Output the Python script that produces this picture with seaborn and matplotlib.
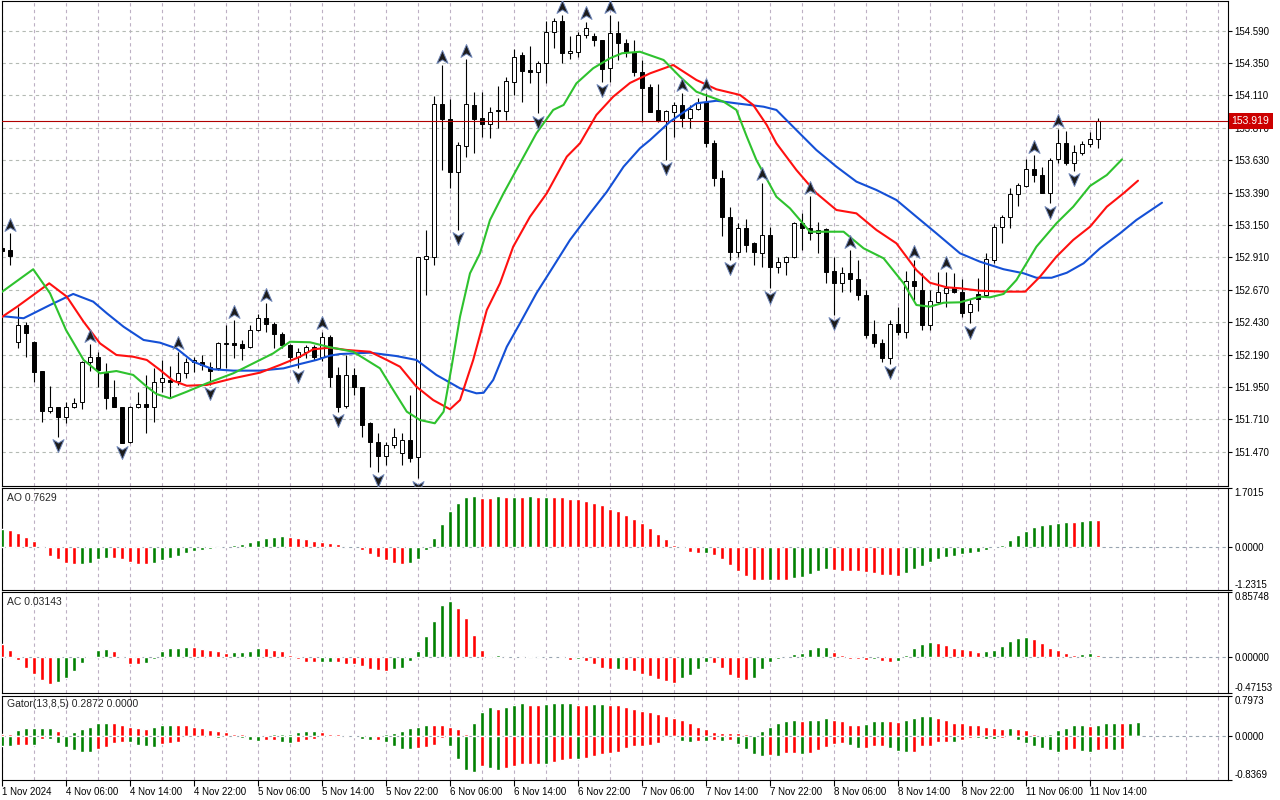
import numpy as np
import matplotlib
matplotlib.use("Agg")
import matplotlib.pyplot as plt
from matplotlib.path import Path
from matplotlib.transforms import offset_copy, blended_transform_factory
import seaborn as sns

# hourly bars, index -1 .. 136 (bar 0 = 1 Nov 23:00, bar 1 = 4 Nov 00:00)
first_bar = -1
opens = [152.980, 152.966, 152.286, 152.410, 152.282, 152.069, 151.775, 151.800, 151.726, 151.805,
         151.842, 152.138, 152.171, 152.052, 151.874, 151.805, 151.546, 151.800, 151.823, 151.805,
         151.986, 152.003, 151.997, 152.052, 152.138, 152.138, 152.101, 152.089, 152.272, 152.274,
         152.267, 152.245, 152.371, 152.460, 152.415, 152.341, 152.262, 152.175, 152.210, 152.249,
         152.175, 152.323, 152.040, 151.810, 152.040, 151.948, 151.682, 151.546, 151.440, 151.521,
         151.464, 151.558, 151.430, 152.897, 152.916, 154.045, 153.934, 153.546, 153.736, 154.040,
         153.941, 153.897, 154.003, 153.995, 154.212, 154.410, 154.299, 154.282, 154.349, 154.578,
         154.662, 154.423, 154.434, 154.558, 154.551, 154.521, 154.312, 154.571, 154.501, 154.434,
         154.284, 154.175, 154.003, 153.921, 153.990, 154.040, 153.941, 154.008, 154.064, 153.756,
         153.497, 153.212, 152.953, 153.126, 153.015, 152.946, 153.077, 152.842, 152.879, 152.912,
         153.163, 153.126, 153.089, 153.119, 152.812, 152.723, 152.793, 152.753, 152.632, 152.343,
         152.274, 152.168, 152.415, 152.360, 152.736, 152.669, 152.410, 152.583, 152.645, 152.682,
         152.657, 152.504, 152.640, 152.632, 152.891, 153.134, 153.212, 153.380, 153.440, 153.563,
         153.521, 153.390, 153.637, 153.756, 153.612, 153.682, 153.749, 153.786]
highs = [152.995, 153.089, 152.546, 152.434, 152.292, 152.069, 151.958, 151.802, 151.842, 151.867,
         152.143, 152.267, 152.212, 152.131, 152.003, 151.805, 151.810, 151.914, 152.040, 152.094,
         152.151, 152.106, 152.212, 152.166, 152.175, 152.188, 152.138, 152.282, 152.410, 152.447,
         152.299, 152.410, 152.489, 152.571, 152.434, 152.360, 152.267, 152.240, 152.262, 152.262,
         152.360, 152.335, 152.101, 152.188, 152.089, 151.948, 151.694, 151.612, 151.546, 151.645,
         151.612, 151.891, 152.912, 153.114, 154.106, 154.336, 154.082, 153.768, 154.378, 154.138,
         154.138, 154.023, 154.180, 154.249, 154.452, 154.434, 154.477, 154.366, 154.664, 154.682,
         154.706, 154.553, 154.578, 154.657, 154.573, 154.521, 154.706, 154.664, 154.526, 154.521,
         154.373, 154.195, 154.195, 154.003, 154.064, 154.126, 154.040, 154.089, 154.126, 153.780,
         153.558, 153.286, 153.163, 153.193, 153.027, 153.464, 153.138, 152.916, 152.921, 153.175,
         153.237, 153.366, 153.175, 153.126, 152.916, 152.842, 152.966, 152.891, 152.669, 152.447,
         152.304, 152.447, 152.546, 152.812, 152.891, 152.793, 152.669, 152.805, 152.805, 152.793,
         152.751, 152.603, 152.756, 152.941, 153.158, 153.225, 153.423, 153.460, 153.637, 153.669,
         153.583, 153.647, 153.860, 153.847, 153.743, 153.773, 153.842, 153.941]
lows = [152.929, 152.854, 152.237, 152.175, 151.990, 151.694, 151.760, 151.583, 151.682, 151.795,
        151.786, 152.072, 151.953, 151.788, 151.800, 151.534, 151.536, 151.795, 151.612, 151.689,
        151.916, 151.867, 151.966, 152.017, 152.062, 152.077, 151.966, 152.077, 152.089, 152.163,
        152.151, 152.237, 152.366, 152.360, 152.237, 152.237, 152.138, 152.091, 152.166, 152.151,
        152.143, 151.953, 151.768, 151.793, 151.891, 151.583, 151.360, 151.323, 151.373, 151.497,
        151.373, 151.397, 151.274, 152.632, 152.854, 153.558, 153.423, 153.114, 153.657, 153.686,
        153.805, 153.793, 153.872, 153.929, 154.114, 154.060, 154.205, 153.978, 154.205, 154.460,
        154.349, 154.378, 154.397, 154.534, 154.477, 154.212, 154.212, 154.373, 154.393, 154.254,
        153.916, 153.988, 153.916, 153.632, 153.805, 153.879, 153.867, 154.003, 153.731, 153.440,
        153.072, 152.891, 152.916, 152.953, 152.854, 152.842, 152.682, 152.793, 152.780, 152.904,
        152.966, 153.040, 152.946, 152.719, 152.484, 152.657, 152.657, 152.595, 152.312, 152.249,
        152.138, 152.121, 152.336, 152.312, 152.595, 152.373, 152.373, 152.573, 152.546, 152.645,
        152.471, 152.423, 152.516, 152.620, 152.867, 153.020, 153.126, 153.292, 153.430, 153.472,
        153.386, 153.312, 153.608, 153.595, 153.551, 153.669, 153.731, 153.719]
closes = [152.958, 152.923, 152.410, 152.349, 152.060, 151.775, 151.800, 151.726, 151.805, 151.834,
          152.138, 152.171, 152.077, 151.872, 151.800, 151.538, 151.800, 151.823, 151.805, 151.986,
          152.015, 151.990, 152.052, 152.138, 152.151, 152.114, 152.072, 152.274, 152.275, 152.262,
          152.242, 152.373, 152.460, 152.415, 152.341, 152.262, 152.175, 152.210, 152.245, 152.175,
          152.323, 152.027, 151.800, 152.040, 151.948, 151.669, 151.546, 151.440, 151.521, 151.583,
          151.558, 151.423, 152.912, 152.921, 154.045, 153.934, 153.546, 153.743, 154.045, 153.934,
          153.897, 153.990, 153.993, 154.217, 154.397, 154.294, 154.282, 154.349, 154.578, 154.662,
          154.423, 154.440, 154.558, 154.608, 154.521, 154.304, 154.571, 154.501, 154.434, 154.284,
          154.163, 153.990, 153.921, 153.997, 154.040, 153.941, 154.008, 154.052, 153.756, 153.497,
          153.212, 152.953, 153.126, 153.003, 152.953, 153.077, 152.842, 152.879, 152.912, 153.163,
          153.126, 153.089, 153.114, 152.805, 152.723, 152.793, 152.753, 152.632, 152.336, 152.274,
          152.168, 152.415, 152.360, 152.736, 152.701, 152.410, 152.590, 152.652, 152.682, 152.652,
          152.497, 152.566, 152.603, 152.897, 153.138, 153.212, 153.378, 153.447, 153.563, 153.521,
          153.390, 153.632, 153.756, 153.612, 153.689, 153.749, 153.786, 153.919]

up_fractals = [0, 10, 21, 28, 32, 39, 54, 57, 69, 72, 75, 84, 87, 94, 100, 105, 113, 117, 128, 131]
down_fractals = [6, 14, 25, 36, 41, 46, 51, 56, 66, 74, 82, 90, 95, 103, 110, 120, 130, 133]

# alligator lines (bar position, price)
lips_x = [-1.25, 2.9, 5, 7, 9.2, 11.25, 13.3, 15.4, 17.1, 18.3, 20, 22.1, 24.6, 27.9, 31.25, 32.9, 35,
          37.5, 40, 42.9, 46.25, 47.9, 49.6, 51.25, 53.1, 54.2, 55.2, 56.25, 57.5, 58.75, 60, 61.7,
          63.75, 65.8, 67.9, 69.2, 70.8, 72.9, 75, 76.5, 78.75, 81.7, 83.75, 85.8, 89.2, 90.8, 92.1,
          93.3, 95.8, 97.5, 100, 102.5, 104.2, 106.7, 109.2, 111.7, 113.3, 115, 116.7, 118.75,
          121.25, 122.5, 124.2, 125.8, 128.3, 130.8, 132.9, 135, 137.1, 139]
lips_y = [152.645, 152.823, 152.645, 152.373, 152.151, 152.052, 152.069, 152.040, 151.953, 151.899,
          151.867, 151.916, 151.978, 152.052, 152.151, 152.200, 152.286, 152.282, 152.245, 152.212,
          152.089, 151.929, 151.768, 151.706, 151.682, 151.768, 152.101, 152.471, 152.793, 152.941,
          153.188, 153.386, 153.608, 153.830, 154.003, 154.040, 154.200, 154.312, 154.386, 154.423,
          154.434, 154.373, 154.249, 154.138, 154.064, 154.003, 153.805, 153.632, 153.360, 153.274,
          153.101, 153.101, 153.101, 152.978, 152.904, 152.719, 152.558, 152.546, 152.575, 152.578,
          152.620, 152.615, 152.640, 152.743, 152.990, 153.163, 153.286, 153.440, 153.521, 153.637]
teeth_x = [-1.25, 0.9, 2.9, 4.9, 7.1, 9.2, 11.25, 13.3, 15.4, 17.1, 18.75, 20.4, 22.1, 24.6, 27.9,
           31.25, 33.75, 36.25, 37.9, 40, 42.1, 45, 47.1, 48.75, 50.8, 52.9, 55, 56.25, 57.9, 59.6,
           61.25, 62.9, 65, 67.1, 69.6, 71.25, 73.3, 75.4, 77.5, 80, 82.9, 85.8, 88.3, 91.25, 92.9,
           94.6, 95.8, 98.3, 100.8, 103.3, 105.8, 108.3, 110.8, 113.3, 115, 117.1, 118.75, 121.25,
           124.2, 126.9, 128.75, 130.8, 132.9, 135, 137.1, 139.2, 141]
teeth_y = [152.460, 152.546, 152.632, 152.719, 152.620, 152.434, 152.274, 152.188, 152.175, 152.151,
           152.077, 151.997, 151.960, 151.966, 152.015, 152.057, 152.114, 152.175, 152.230, 152.242,
           152.225, 152.212, 152.151, 152.101, 151.953, 151.854, 151.786, 151.854, 152.151, 152.521,
           152.719, 152.990, 153.212, 153.386, 153.657, 153.756, 153.966, 154.101, 154.203, 154.274,
           154.336, 154.225, 154.156, 154.114, 154.040, 153.891, 153.756, 153.558, 153.386, 153.262,
           153.237, 153.114, 153.015, 152.817, 152.723, 152.689, 152.682, 152.664, 152.657, 152.657,
           152.768, 152.916, 153.040, 153.138, 153.286, 153.386, 153.479]
jaw_x = [-1.25, 1.7, 5, 7.9, 10.4, 12.1, 14.2, 16.7, 18.75, 20.8, 22.9, 25.4, 27.9, 31.25, 34.2,
         36.25, 38.3, 40, 41.25, 45, 48.3, 50.8, 53.3, 56.25, 58.3, 59.2, 60.4, 62.1, 63.75, 65.8,
         67.9, 70, 72.5, 74.6, 76.7, 78.75, 80, 82.5, 85.8, 88.3, 90.8, 94.2, 95.8, 98.3, 100.8,
         103.3, 105.8, 108.3, 110.8, 113.3, 115.8, 118.75, 121.25, 124.2, 126.7, 128.3, 130.2,
         132.1, 134.2, 136.25, 138.75, 140.8, 144]
jaw_y = [152.477, 152.460, 152.558, 152.640, 152.583, 152.497, 152.397, 152.299, 152.279, 152.237,
         152.138, 152.082, 152.072, 152.072, 152.089, 152.121, 152.151, 152.183, 152.195, 152.205,
         152.180, 152.151, 152.040, 151.941, 151.904, 151.908, 152.003, 152.249, 152.423, 152.645,
         152.842, 153.040, 153.237, 153.397, 153.583, 153.719, 153.780, 153.916, 154.052, 154.071,
         154.052, 154.027, 154.003, 153.854, 153.706, 153.583, 153.472, 153.410, 153.336, 153.212,
         153.089, 152.941, 152.879, 152.823, 152.793, 152.760, 152.760, 152.797, 152.867, 152.978,
         153.089, 153.188, 153.316]

# Awesome Oscillator, bars -1 .. 136
ao_vals = [0.51, 0.50, 0.39, 0.28, 0.16, -0.04, -0.25, -0.36, -0.48, -0.505,
           -0.50, -0.46, -0.36, -0.32, -0.33, -0.36, -0.44, -0.50, -0.505, -0.47,
           -0.39, -0.32, -0.27, -0.19, -0.12, -0.09, -0.05, -0.04, -0.01, 0.04,
           0.07, 0.13, 0.21, 0.26, 0.29, 0.32, 0.30, 0.27, 0.23, 0.16,
           0.15, 0.10, 0.07, 0.01, 0.005, -0.09, -0.22, -0.28, -0.39, -0.48,
           -0.50, -0.47, -0.35, -0.10, 0.25, 0.67, 1.04, 1.26, 1.43, 1.46,
           1.41, 1.40, 1.46, 1.44, 1.445, 1.44, 1.46, 1.44, 1.445, 1.44,
           1.435, 1.38, 1.375, 1.34, 1.26, 1.20, 1.09, 1.04, 0.92, 0.81,
           0.69, 0.55, 0.38, 0.22, 0.04, -0.04, -0.15, -0.19, -0.185, -0.24,
           -0.35, -0.53, -0.70, -0.85, -0.96, -0.965, -0.96, -0.965, -0.97, -0.90,
           -0.87, -0.79, -0.70, -0.65, -0.68, -0.69, -0.70, -0.705, -0.73, -0.76,
           -0.80, -0.82, -0.85, -0.76, -0.65, -0.56, -0.45, -0.35, -0.29, -0.27,
           -0.22, -0.18, -0.15, -0.10, -0.04, 0.06, 0.21, 0.35, 0.47, 0.58,
           0.64, 0.67, 0.69, 0.715, 0.71, 0.75, 0.77, 0.7629]
ao_cols = ("grrrrrrrrr" "ggggrrrrrg" "gggggggggg" "ggggggrrrr" "rrrrrrrrrr" "rggggggggg"
           "rrgrgrgrgr" "rrrrrrrrrr" "rrrrrrrrgr" "rrrrrrgrrg" "ggggrrrrrr" "rrrggggggg"
           "gggggggggg" "ggggrggr")

# Accelerator Oscillator, bars -1 .. 136
ac_vals = [0.176, 0.097, -0.035, -0.14, -0.22, -0.30, -0.35, -0.33, -0.27, -0.18,
           -0.075, 0.018, 0.097, 0.11, 0.075, 0.004, -0.088, -0.084, -0.075, -0.018,
           0.075, 0.12, 0.125, 0.136, 0.135, 0.11, 0.097, 0.075, 0.057, 0.07,
           0.072, 0.084, 0.12, 0.12, 0.097, 0.075, 0.03, -0.018, -0.06, -0.07,
           -0.07, -0.07, -0.07, -0.088, -0.09, -0.11, -0.15, -0.17, -0.18, -0.16,
           -0.136, -0.044, 0.084, 0.28, 0.48, 0.68, 0.74, 0.65, 0.52, 0.29,
           0.097, -0.004, 0.026, -0.008, 0.013, -0.008, 0.013, -0.004, 0.004, -0.004,
           -0.006, -0.031, -0.028, -0.048, -0.084, -0.136, -0.154, -0.15, -0.167, -0.18,
           -0.22, -0.246, -0.286, -0.32, -0.334, -0.28, -0.23, -0.15, -0.07, -0.072,
           -0.136, -0.23, -0.28, -0.295, -0.27, -0.15, -0.07, -0.018, 0.004, 0.044,
           0.057, 0.11, 0.136, 0.137, 0.07, 0.03, -0.018, -0.03, -0.031, -0.018,
           -0.044, -0.062, -0.044, 0.03, 0.123, 0.176, 0.20, 0.19, 0.163, 0.123,
           0.11, 0.097, 0.07, 0.084, 0.097, 0.15, 0.216, 0.255, 0.27, 0.24,
           0.19, 0.123, 0.097, 0.057, 0.03, 0.044, 0.057, 0.03143]
ac_cols = ("rrrrrrrggg" "ggggrrrrgg" "ggggrrrrrg" "gggrrrrrrr" "ggrrrrrrrg" "gggggggrrr"
           "rrgrgrgrgr" "rrgrrrrgrr" "rrrrrggggr" "rrrrgggggg" "ggggrrrrrg" "rrgggggrrr"
           "rrrggggggr" "rrrrrggr")

# Gator oscillator, bars -1 .. 141
gator_up = [0.039, 0.039, 0.117, 0.156, 0.156, 0.158, 0.160, 0.097, 0.019, 0.078,
            0.136, 0.194, 0.253, 0.272, 0.253, 0.233, 0.175, 0.156, 0.155, 0.175,
            0.214, 0.233, 0.232, 0.214, 0.175, 0.156, 0.117, 0.097, 0.078, 0.058,
            0.039, 0.038, 0.019, 0.006, 0.039, 0.040, 0.058, 0.078, 0.097, 0.098,
            0.078, 0.058, 0.039, 0.026, 0.025, 0.028, 0.030, 0.032, 0.058, 0.060,
            0.097, 0.156, 0.194, 0.233, 0.232, 0.214, 0.194, 0.136, 0.039, 0.253,
            0.467, 0.564, 0.544, 0.583, 0.603, 0.642, 0.622, 0.620, 0.625, 0.642,
            0.645, 0.661, 0.622, 0.620, 0.623, 0.625, 0.622, 0.603, 0.583, 0.544,
            0.505, 0.467, 0.428, 0.408, 0.369, 0.311, 0.253, 0.194, 0.136, 0.078,
            0.077, 0.076, 0.075, 0.058, 0.006, 0.097, 0.194, 0.253, 0.292, 0.311,
            0.292, 0.311, 0.330, 0.350, 0.330, 0.292, 0.233, 0.232, 0.234, 0.292,
            0.293, 0.292, 0.291, 0.311, 0.350, 0.389, 0.408, 0.369, 0.330, 0.266,
            0.253, 0.233, 0.214, 0.194, 0.156, 0.155, 0.157, 0.155, 0.117, 0.058,
            0.005, 0.052, 0.117, 0.168, 0.214, 0.215, 0.213, 0.233, 0.266, 0.267,
            0.265, 0.272, 0.2872]
gator_up_cols = ("rrgggggrrg" "ggggrrrrrg" "ggrrrrrrrr" "rrrrgggggg" "rrrrrggggg" "ggggrrrrrg"
                 "ggrgggrrgg" "ggrrggrrrr" "rrrrrrrrrr" "rrrrgggggg" "rgggrrrrgg" "grrggggrrr"
                 "rrrrrrgrrr" "rgggggrggg" "rgg")
gator_dn = [-0.188, -0.188, -0.168, -0.167, -0.169, -0.052, -0.053, -0.130, -0.207, -0.266,
            -0.305, -0.306, -0.246, -0.207, -0.130, -0.104, -0.110, -0.168, -0.188, -0.207,
            -0.149, -0.130, -0.110, -0.013, -0.012, -0.014, -0.015, -0.032, -0.008, -0.019,
            -0.032, -0.071, -0.091, -0.071, -0.070, -0.110, -0.130, -0.110, -0.071, -0.052,
            -0.019, -0.013, -0.014, -0.006, -0.019, -0.052, -0.071, -0.065, -0.110, -0.188,
            -0.246, -0.247, -0.227, -0.207, -0.168, -0.032, -0.188, -0.441, -0.654, -0.693,
            -0.577, -0.616, -0.654, -0.616, -0.577, -0.538, -0.537, -0.536, -0.538, -0.499,
            -0.460, -0.441, -0.443, -0.421, -0.382, -0.343, -0.324, -0.305, -0.227, -0.188,
            -0.187, -0.168, -0.130, -0.013, -0.014, -0.091, -0.110, -0.091, -0.092, -0.071,
            -0.091, -0.071, -0.149, -0.246, -0.343, -0.382, -0.363, -0.382, -0.324, -0.323,
            -0.343, -0.324, -0.266, -0.207, -0.149, -0.130, -0.168, -0.227, -0.226, -0.188,
            -0.187, -0.227, -0.285, -0.305, -0.304, -0.188, -0.187, -0.110, -0.109, -0.110,
            -0.071, -0.025, -0.030, -0.040, -0.052, -0.032, -0.013, -0.071, -0.130, -0.188,
            -0.220, -0.272, -0.305, -0.272, -0.253, -0.285, -0.305, -0.266, -0.253, -0.254,
            -0.253, -0.006, 0.0]
gator_dn_cols = ("ggrrgrgggg" "ggrrrrgggg" "rrrrrgggrg" "gggrrggrrr" "rrgrgggrgg" "ggrrrrgggg"
                 "rggrrrrrgr" "rrgrrrrrrr" "rrrrgggrgr" "grggggrgrr" "grrrrrggrr" "rgggrrrrrg"
                 "rrgggrrggg" "gggrrggrrg" "rrr")

tick_bars = [-1, 7, 15, 23, 31, 39, 47, 55, 63, 71, 79, 87, 95, 103, 111, 119, 127, 135]
tick_labels = ["1 Nov 2024", "4 Nov 06:00", "4 Nov 14:00", "4 Nov 22:00", "5 Nov 06:00",
               "5 Nov 14:00", "5 Nov 22:00", "6 Nov 06:00", "6 Nov 14:00", "6 Nov 22:00",
               "7 Nov 06:00", "7 Nov 14:00", "7 Nov 22:00", "8 Nov 06:00", "8 Nov 14:00",
               "8 Nov 22:00", "11 Nov 06:00", "11 Nov 14:00"]
price_ticks = [151.470, 151.710, 151.950, 152.190, 152.430, 152.670, 152.910, 153.150,
               153.390, 153.630, 153.870, 154.110, 154.350, 154.590]

sns.set_style("white")
plt.rcParams['font.family'] = ['Liberation Sans', 'DejaVu Sans']

GREEN, RED = '#008000', '#ff0000'
col = {'g': GREEN, 'r': RED}
GRID = '#bdb0c4'

fig = plt.figure(figsize=(12.8, 8), dpi=100)


def box(top, bottom, left=2, right=1228):
    return [left / 1280, 1 - bottom / 800, (right - left) / 1280, (bottom - top) / 800]


ax_p = fig.add_axes(box(1, 486))
ax_ao = fig.add_axes(box(488, 589.5))
ax_ac = fig.add_axes(box(592, 693))
ax_g = fig.add_axes(box(695.5, 779.5))
axes = [ax_p, ax_ao, ax_ac, ax_g]

for ax in axes:
    ax.set_xlim(-1.0, 152.25)
    for b in range(-1, 153, 4):
        ax.axvline(b, color=GRID, lw=0.8, ls=(0, (3, 3)), zorder=0)
    for s in ax.spines.values():
        s.set_color('black')
        s.set_linewidth(0.8)
    ax.yaxis.tick_right()
    ax.tick_params(axis='y', direction='out', length=3, width=0.8, labelsize=7, pad=1.5,
                   colors='black', right=True, left=False)
    ax.tick_params(axis='x', bottom=False, labelbottom=False)
    ax.set_facecolor('white')

# --- price panel
ax_p.set_ylim(151.2174, 154.810)
for p in price_ticks:
    ax_p.axhline(p, color='#b4bab4', lw=0.8, ls=(0, (3, 3)), zorder=0)
ax_p.set_yticks(price_ticks)
ax_p.set_yticklabels([f'{p:.3f}' for p in price_ticks])

bars = np.arange(first_bar, first_bar + len(opens))
o, h, l, c = map(np.array, (opens, highs, lows, closes))
ax_p.vlines(bars, l, h, color='black', lw=0.8, zorder=3)
body_lo = np.minimum(o, c)
body_h = np.maximum(np.abs(c - o), 0.003)
ax_p.bar(bars, body_h, bottom=body_lo, width=0.55,
         color=np.where(c >= o, 'white', 'black'), edgecolor='black', linewidth=0.7, zorder=4)

for xs, ys, lc in [(jaw_x, jaw_y, '#1450d6'), (teeth_x, teeth_y, '#ff1010'), (lips_x, lips_y, '#2ec22e')]:
    sns.lineplot(x=xs, y=ys, ax=ax_p, color=lc, lw=1.5, sort=False, estimator=None, zorder=5)

up_arrow = Path([(0, 1), (0.8, -0.85), (0, -0.35), (-0.8, -0.85), (0, 1)],
                [Path.MOVETO, Path.LINETO, Path.LINETO, Path.LINETO, Path.CLOSEPOLY])
dn_arrow = Path([(0, -1), (0.8, 0.85), (0, 0.35), (-0.8, 0.85), (0, -1)],
                [Path.MOVETO, Path.LINETO, Path.LINETO, Path.LINETO, Path.CLOSEPOLY])
up_idx = np.array(up_fractals) - first_bar
dn_idx = np.array(down_fractals) - first_bar
ax_p.plot(up_fractals, h[up_idx], ls='none', marker=up_arrow, ms=10, mfc='#1c1c1c', mec='#6f86b8',
          mew=0.7, transform=offset_copy(ax_p.transData, fig=fig, y=6, units='points'), zorder=6)
ax_p.plot(down_fractals, l[dn_idx], ls='none', marker=dn_arrow, ms=10, mfc='#1c1c1c', mec='#6f86b8',
          mew=0.7, transform=offset_copy(ax_p.transData, fig=fig, y=-6, units='points'), zorder=6)

last = closes[-1]
ax_p.axhline(last, color='#b00000', lw=0.8, zorder=4)
ax_p.text(1.003, last, f'{last:.3f}', transform=blended_transform_factory(ax_p.transAxes, ax_p.transData),
          ha='left', va='center', color='white', fontsize=7.5, zorder=10, clip_on=False,
          bbox=dict(boxstyle='square,pad=0.3', fc='#cc0000', ec='none'))

# --- oscillators
ax_ao.bar(bars, ao_vals, width=0.5, color=[col[k] for k in ao_cols], zorder=3)
ax_ac.bar(bars, ac_vals, width=0.5, color=[col[k] for k in ac_cols], zorder=3)
gbars = np.arange(first_bar, first_bar + len(gator_up))
ax_g.bar(gbars, gator_up, width=0.5, color=[col[k] for k in gator_up_cols], zorder=3)
ax_g.bar(gbars, gator_dn, width=0.5, color=[col[k] for k in gator_dn_cols], zorder=3)

panels = [(ax_ao, -1.2315, 1.7015, ['-1.2315', '0.0000', '1.7015'], f'AO {ao_vals[-1]:.4f}'),
          (ax_ac, -0.47153, 0.85748, ['-0.47153', '0.00000', '0.85748'], f'AC {ac_vals[-1]:.5f}'),
          (ax_g, -0.8369, 0.7973, ['-0.8369', '0.0000', '0.7973'],
           f'Gator(13,8,5) {gator_up[-1]:.4f} {abs(gator_dn[-1]):.4f}')]
for ax, lo, hi, labs, title in panels:
    ax.set_ylim(lo, hi)
    ax.axhline(0, color='#98a4b0', lw=0.8, ls=(0, (3, 3)), zorder=1)
    ax.set_yticks([lo, 0, hi])
    ax.set_yticklabels(labs)
    tl = ax.get_yticklabels()
    tl[0].set_va('bottom')
    tl[-1].set_va('top')
    ax.text(0.004, 0.955, title, transform=ax.transAxes, ha='left', va='top', fontsize=7.5, zorder=10)

ax_g.set_xticks(tick_bars)
ax_g.set_xticklabels(tick_labels, ha='left')
ax_g.tick_params(axis='x', bottom=True, labelbottom=True, direction='out', length=4, width=0.8,
                 labelsize=7, pad=1.5, colors='black')

fig.savefig('out.png', dpi=100)
